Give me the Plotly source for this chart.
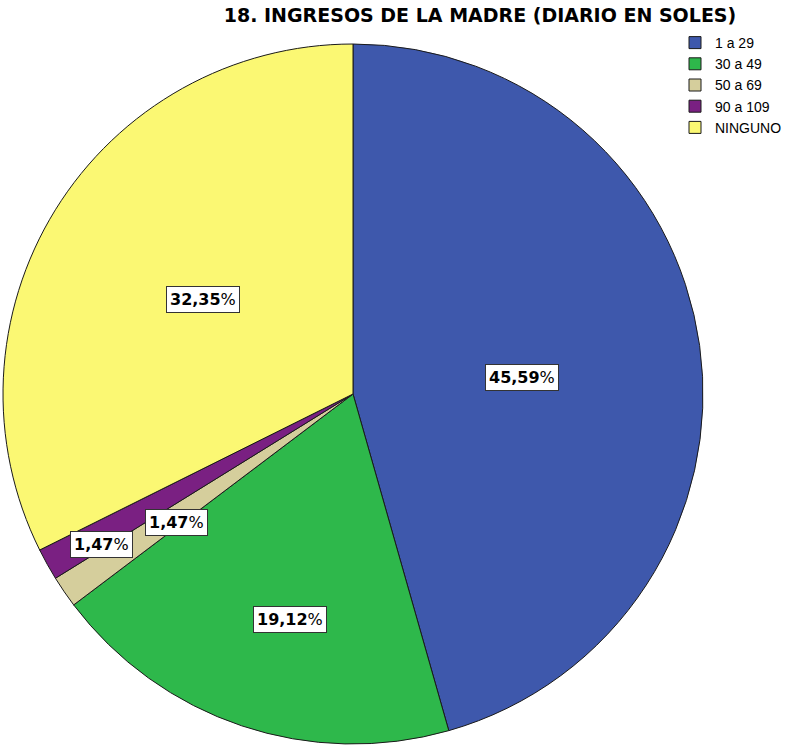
import numpy as np
import plotly.graph_objects as go

# ---- data ----
categories = ["1 a 29", "30 a 49", "50 a 69", "90 a 109", "NINGUNO"]
counts = [31, 13, 1, 1, 22]
pct_labels = ["45,59", "19,12", "1,47", "1,47", "32,35"]
title_text = "18. INGRESOS DE LA MADRE (DIARIO EN SOLES)"

# ---- styles ----
colors = ["#3E58AC", "#2EB84B", "#D5CE9C", "#7A2082", "#FBF873"]
label_radius_frac = [0.485, 0.668, 0.624, 0.839, 0.507]
label_angle_shift_deg = [2.5, -2.9, -1.5, -1.8, 0.6]

W, H = 790, 755
cx_px, cy_px, R = 353, 394, 350

fig = go.Figure()
fig.add_trace(go.Pie(
    labels=categories,
    values=counts,
    sort=False,
    direction="clockwise",
    rotation=0,
    marker=dict(colors=colors, line=dict(color="#1a1a1a", width=1)),
    textinfo="none",
    hoverinfo="label+percent",
    domain=dict(x=[(cx_px - R) / W, (cx_px + R) / W],
                y=[1 - (cy_px + R) / H, 1 - (cy_px - R) / H]),
))

# labels at slice mid-angles computed from the data
vals = np.array(counts, dtype=float)
cum = np.cumsum(vals) - vals / 2
angles = cum / vals.sum() * 2 * np.pi + np.radians(label_angle_shift_deg)
annotations = []
for lab, ang, f in zip(pct_labels, angles, label_radius_frac):
    px = cx_px + f * R * np.sin(ang)
    py = cy_px - f * R * np.cos(ang)
    annotations.append(dict(
        x=px / W, y=1 - py / H, xref="paper", yref="paper",
        text="<b>" + lab + "</b>%", showarrow=False,
        font=dict(family="DejaVu Sans", size=16, color="#000000"),
        bgcolor="#FFFFFF", bordercolor="#333333", borderwidth=1, borderpad=3,
        xanchor="center", yanchor="middle",
    ))

fig.update_layout(
    width=W, height=H,
    margin=dict(l=0, r=0, t=0, b=0, autoexpand=False),
    paper_bgcolor="#FFFFFF",
    plot_bgcolor="#FFFFFF",
    title=dict(text="<b>" + title_text + "</b>", x=480 / W, xanchor="center",
               y=1 - 15 / H, yanchor="middle",
               font=dict(family="DejaVu Sans", size=19, color="#000000")),
    legend=dict(x=675 / W, y=1 - 27 / H, xanchor="left", yanchor="top",
                font=dict(family="Liberation Sans", size=14, color="#000000"),
                bgcolor="rgba(0,0,0,0)", itemwidth=30, tracegroupgap=0),
    annotations=annotations,
    showlegend=True,
)

fig.write_html(
    "out.html",
    config={"displayModeBar": False},
    post_script="document.body.style.margin='0';document.documentElement.style.overflow='hidden';",
)
